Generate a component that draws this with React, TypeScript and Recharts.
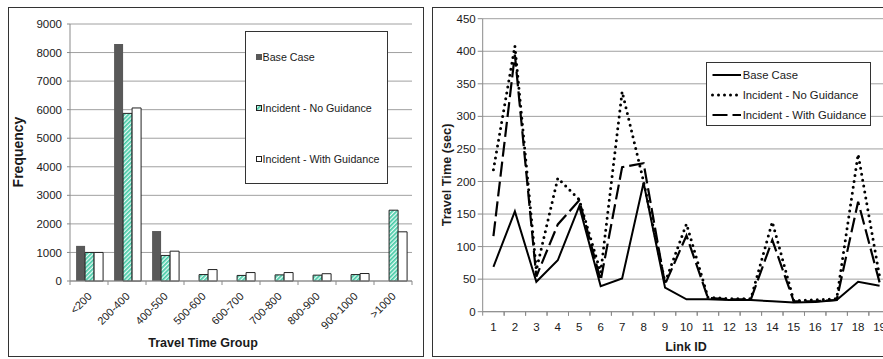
import React from 'react';
import { BarChart, Bar, XAxis, YAxis, CartesianGrid, Legend, LineChart, Line } from 'recharts';

// ---------- data ----------
const seriesNames = ['Base Case', 'Incident - No Guidance', 'Incident - With Guidance'];

const travelGroups = ['<200', '200-400', '400-500', '500-600', '600-700', '700-800', '800-900', '900-1000', '>1000'];
const baseFreq = [1230, 8300, 1750, 0, 0, 0, 0, 0, 0];
const noGuidFreq = [1000, 5870, 895, 225, 195, 215, 205, 225, 2480];
const withGuidFreq = [1000, 6060, 1045, 400, 296, 296, 255, 262, 1722];
const freqTicks = [0, 1000, 2000, 3000, 4000, 5000, 6000, 7000, 8000, 9000];

const linkIds = [1, 2, 3, 4, 5, 6, 7, 8, 9, 10, 11, 12, 13, 14, 15, 16, 17, 18, 19];
const baseTime = [69, 154, 46, 79, 162, 39, 51, 198, 37, 19, 19, 18, 18, 16, 14, 15, 18, 46, 40];
const noGuidTime = [218, 408, 64, 205, 172, 60, 338, 200, 45, 135, 22, 20, 20, 138, 17, 18, 20, 242, 54];
const withGuidTime = [116, 395, 54, 134, 171, 48, 222, 228, 42, 117, 21, 19, 19, 110, 16, 16, 18, 169, 45];
const timeTicks = [0, 50, 100, 150, 200, 250, 300, 350, 400, 450];

const barData = travelGroups.map((g, i) => ({ group: g, base: baseFreq[i], noGuid: noGuidFreq[i], withGuid: withGuidFreq[i] }));
const lineData = linkIds.map((id, i) => ({ link: id, base: baseTime[i], noGuid: noGuidTime[i], withGuid: withGuidTime[i] }));

// ---------- layout ----------
const FONT = '"Liberation Sans", Arial, Helvetica, sans-serif';
const L_W = 430, L_H = 359;
const L_MARGIN = { top: 24, right: 18, bottom: 18, left: 20 };
const L_YW = 50, L_XH = 60;
const L_PLOT_W = L_W - L_MARGIN.left - L_MARGIN.right - L_YW;
const L_HALF = L_PLOT_W / travelGroups.length / 2;

const R_LEFT = 430;
const R_W = 470, R_H = 359;
const R_MARGIN = { top: 18.7, right: 9.7, bottom: 17.3, left: 12.7 };
const R_YW = 40, R_XH = 30;
const R_PLOT_W = R_W - R_MARGIN.left - R_MARGIN.right - R_YW;
const R_HALF = R_PLOT_W / linkIds.length / 2;

const AXIS = '#8a8a8a';
const GRID = '#a0a0a0';
const INK = '#1a1a1a';

const LeftTick = (props: any) => {
  const { x, y, payload } = props;
  const idx = props.index ?? payload?.index ?? 0;
  const ax = x + 3.5;
  const ay = y + 16;
  return (
    <g>
      <line x1={x - L_HALF} x2={x - L_HALF} y1={y} y2={y + 4} stroke={AXIS} />
      {idx === travelGroups.length - 1 && <line x1={x + L_HALF} x2={x + L_HALF} y1={y} y2={y + 4} stroke={AXIS} />}
      <text x={ax} y={ay} textAnchor="end" transform={`rotate(-45 ${ax} ${ay})`} fontSize={11} fill={INK} fontFamily={FONT}>
        {payload.value}
      </text>
    </g>
  );
};

const RightTick = (props: any) => {
  const { x, y, payload } = props;
  return (
    <g>
      <line x1={x - R_HALF} x2={x - R_HALF} y1={y} y2={y + 4} stroke={AXIS} />
      <line x1={x + R_HALF} x2={x + R_HALF} y1={y} y2={y + 4} stroke={AXIS} />
      <text x={x} y={y + 19} textAnchor="middle" fontSize={11.5} fill={INK} fontFamily={FONT}>
        {payload.value}
      </text>
    </g>
  );
};

const barMarkers = [
  { fill: '#595959', stroke: '#595959' },
  { fill: 'url(#hatchTeal)', stroke: '#222' },
  { fill: '#ffffff', stroke: '#222' },
];

const LeftLegend = () => (
  <div style={{ width: 141, height: 151, border: '1px solid #333', background: '#fff', position: 'relative', fontFamily: FONT, fontSize: 10.7, color: INK }}>
    {seriesNames.map((n, i) => (
      <div key={n} style={{ position: 'absolute', left: 9.5, top: 17.7 + i * 51, height: 14, display: 'flex', alignItems: 'center', whiteSpace: 'nowrap' }}>
        <svg width={6} height={6} style={{ display: 'block' }}>
          <rect x={0.5} y={0.5} width={5} height={5} fill={barMarkers[i].fill} stroke={barMarkers[i].stroke} strokeWidth={1} />
        </svg>
        <span style={{ marginLeft: 1 }}>{n}</span>
      </div>
    ))}
  </div>
);

const lineStyles = [
  { dash: undefined as string | undefined, width: 2, cap: 'butt' as const },
  { dash: '0 6', width: 3, cap: 'round' as const },
  { dash: '15 5', width: 2.2, cap: 'butt' as const },
];

const RightLegend = () => (
  <div style={{ width: 163, height: 62, border: '1px solid #333', background: '#fff', position: 'relative', fontFamily: FONT, fontSize: 11.3, color: INK }}>
    {seriesNames.map((n, i) => (
      <div key={n} style={{ position: 'absolute', left: 3.7, top: 4.3 + i * 19.8, height: 16, display: 'flex', alignItems: 'center', whiteSpace: 'nowrap' }}>
        <svg width={31} height={6} style={{ display: 'block' }}>
          <line x1={1.5} x2={30} y1={3} y2={3} stroke="#000" strokeWidth={lineStyles[i].width} strokeDasharray={lineStyles[i].dash} strokeLinecap={lineStyles[i].cap} />
        </svg>
        <span style={{ marginLeft: 1 }}>{n}</span>
      </div>
    ))}
  </div>
);

export default function App() {
  return (
    <div style={{ position: 'absolute', left: 0, top: 0, width: 883, height: 359, overflow: 'hidden', background: '#fff', fontFamily: FONT }}>
      <svg width={0} height={0} style={{ position: 'absolute' }}>
        <defs>
          <pattern id="hatchTeal" patternUnits="userSpaceOnUse" width={3} height={3} patternTransform="rotate(45)">
            <rect width={3} height={3} fill="#e8fbf5" />
            <rect width={1.7} height={3} fill="#45c9a6" />
          </pattern>
        </defs>
      </svg>

      <div style={{ position: 'absolute', left: 8, top: 7, width: 414, height: 348, border: '1px solid #333' }} />
      <div style={{ position: 'absolute', left: 432, top: 7, width: 470, height: 348, border: '1px solid #333' }} />

      <div style={{ position: 'absolute', left: 0, top: 0 }}>
        <BarChart width={L_W} height={L_H} data={barData} margin={L_MARGIN} barCategoryGap="16%" barGap={0}>
          <CartesianGrid vertical={false} stroke={GRID} strokeWidth={1} />
          <XAxis dataKey="group" interval={0} height={L_XH} tickSize={0} tickMargin={0} tickLine={false} axisLine={{ stroke: AXIS }} tick={<LeftTick />} />
          <YAxis width={L_YW} domain={[0, 9000]} ticks={freqTicks} interval={0} tickSize={3} tickMargin={5} tickLine={{ stroke: AXIS }} axisLine={{ stroke: AXIS }} tick={{ fontSize: 11.5, fill: INK, fontFamily: FONT }} />
          <Legend layout="horizontal" verticalAlign="middle" align="center" wrapperStyle={{ left: 245, top: 31, width: 143, height: 153 }} content={() => <LeftLegend />} />
          <Bar dataKey="base" name={seriesNames[0]} fill="#595959" isAnimationActive={false} />
          <Bar dataKey="noGuid" name={seriesNames[1]} fill="url(#hatchTeal)" stroke="#222" strokeWidth={1} isAnimationActive={false} />
          <Bar dataKey="withGuid" name={seriesNames[2]} fill="#ffffff" stroke="#222" strokeWidth={1} isAnimationActive={false} />
        </BarChart>
      </div>

      <div style={{ position: 'absolute', left: R_LEFT, top: 0 }}>
        <LineChart width={R_W} height={R_H} data={lineData} margin={R_MARGIN}>
          <CartesianGrid vertical={false} stroke={GRID} strokeWidth={1} />
          <XAxis dataKey="link" type="number" domain={[0.5, 19.5]} ticks={linkIds} interval={0} height={R_XH} tickSize={0} tickMargin={0} tickLine={false} axisLine={{ stroke: AXIS }} tick={<RightTick />} />
          <YAxis width={R_YW} domain={[0, 450]} ticks={timeTicks} interval={0} tickSize={5} tickMargin={2} tickLine={{ stroke: AXIS }} axisLine={{ stroke: AXIS }} tick={{ fontSize: 11.5, fill: INK, fontFamily: FONT }} />
          <Legend layout="horizontal" verticalAlign="middle" align="center" wrapperStyle={{ left: 706 - R_LEFT, top: 62, width: 165, height: 64 }} content={() => <RightLegend />} />
          <Line type="linear" dataKey="base" name={seriesNames[0]} stroke="#000" strokeWidth={lineStyles[0].width} dot={false} isAnimationActive={false} />
          <Line type="linear" dataKey="noGuid" name={seriesNames[1]} stroke="#000" strokeWidth={lineStyles[1].width} strokeDasharray={lineStyles[1].dash} strokeLinecap="round" dot={false} isAnimationActive={false} />
          <Line type="linear" dataKey="withGuid" name={seriesNames[2]} stroke="#000" strokeWidth={lineStyles[2].width} strokeDasharray={lineStyles[2].dash} dot={false} isAnimationActive={false} />
        </LineChart>
      </div>

      <div style={{ position: 'absolute', left: 18, top: 152, transform: 'translate(-50%, -50%) rotate(-90deg)', fontWeight: 'bold', fontSize: 14, color: INK, whiteSpace: 'nowrap', lineHeight: 1 }}>Frequency</div>
      <div style={{ position: 'absolute', left: 203, top: 343, transform: 'translate(-50%, -50%)', fontWeight: 'bold', fontSize: 12.5, color: INK, whiteSpace: 'nowrap', lineHeight: 1 }}>Travel Time Group</div>
      <div style={{ position: 'absolute', left: 446.7, top: 175, transform: 'translate(-50%, -50%) rotate(-90deg)', fontWeight: 'bold', fontSize: 12.7, color: INK, whiteSpace: 'nowrap', lineHeight: 1 }}>Travel Time (sec)</div>
      <div style={{ position: 'absolute', left: 686, top: 346.7, transform: 'translate(-50%, -50%)', fontWeight: 'bold', fontSize: 12.5, color: INK, whiteSpace: 'nowrap', lineHeight: 1 }}>Link ID</div>
    </div>
  );
}
